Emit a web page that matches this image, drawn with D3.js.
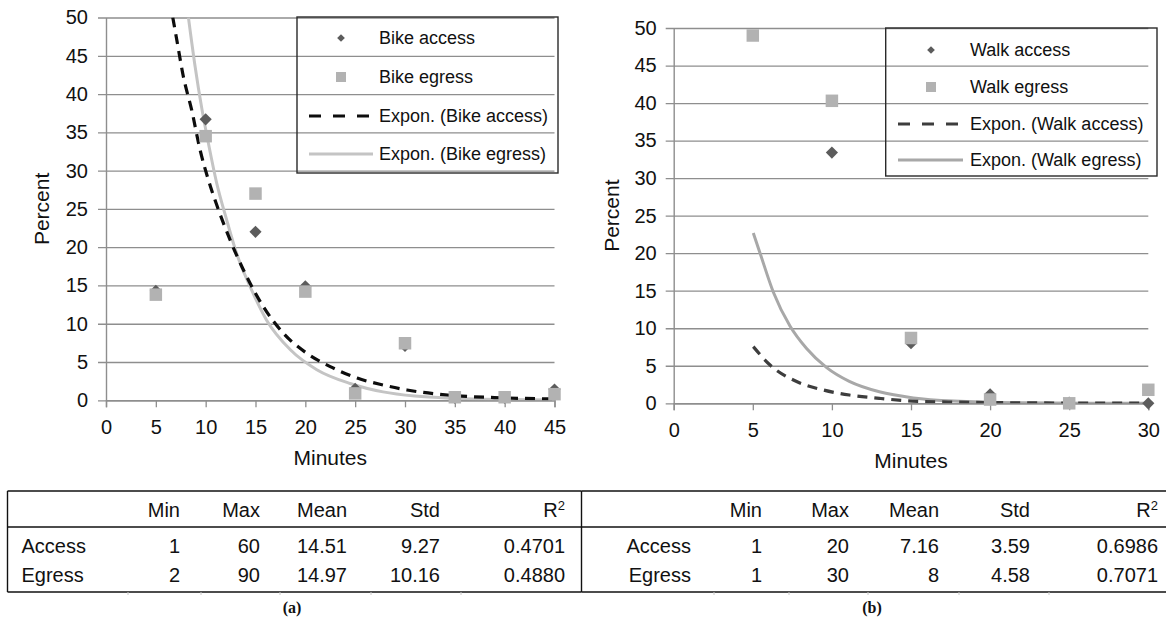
<!DOCTYPE html>
<html><head><meta charset="utf-8">
<script src="https://cdn.jsdelivr.net/npm/d3@7"></script>
<style>
html,body{margin:0;padding:0;background:#fff;}
svg{display:block;font-family:"Liberation Sans",Arial,Helvetica,sans-serif;}
</style></head><body>
<svg id="fig" width="1167" height="629"></svg>
<script>
// ---- (a) bike: share of trips (%) per 5-minute time bin ----
const bikeMinutes = [5, 10, 15, 20, 25, 30, 35, 40, 45];
const bikeAccess  = [14.3, 36.7, 22.0, 14.9, 1.5, 7.1, 0.3, 0.3, 1.4];
const bikeEgress  = [13.8, 34.5, 27.0, 14.2, 0.9, 7.45, 0.4, 0.4, 0.8];
// exponential trend lines, [minutes, percent]
const bikeAccessTrend = [[6.7,50],[7.1,47.1],[7.76,42.3],[8.6,37.9],[9.44,32.7],[10.27,28.8],[11.28,24.9],[12.45,20.95],[14.1,16.2],[15.8,12.2],[17.8,8.75],[20.15,6.14],[22.5,4.4],[25.2,2.9],[27.8,2.0],[30.2,1.35],[34.9,0.62],[39.9,0.32],[44.9,0.17]];
const bikeEgressTrend = [[8.27,50],[8.94,43.6],[9.6,38.2],[10.27,33.6],[11.1,28.4],[12.1,23.6],[13.1,19.2],[14.46,14.85],[16.1,10.5],[18.5,6.6],[21.15,4.0],[24.5,2.2],[27.8,1.1],[31,0.55],[35,0.25],[40,0.1],[45,0.04]];
const bikeXTicks = [0, 5, 10, 15, 20, 25, 30, 35, 40, 45];
const bikeLegend = ["Bike access", "Bike egress", "Expon. (Bike access)", "Expon. (Bike egress)"];

// ---- (b) walk ----
const walkAccessMinutes = [10, 15, 20, 25, 30];
const walkAccess        = [33.4, 8.0, 1.2, 0.1, 0.0];
const walkEgressMinutes = [5, 10, 15, 20, 25, 30];
const walkEgress        = [49.0, 40.3, 8.7, 0.5, 0.0, 1.8];
const walkAccessTrend = [[5.03,7.55],[6.09,5.1],[7.77,2.9],[9.46,1.77],[11.1,1.1],[13,0.66],[15.1,0.3],[18,0.15],[22,0.06],[26,0.03],[30,0.01]];
const walkEgressTrend = [[5.03,22.7],[5.46,20.0],[6.3,14.8],[7.35,10.3],[8.4,7.3],[9.67,4.75],[11.1,2.92],[13,1.53],[15.15,0.72],[17.7,0.3],[22,0.07],[26,0.02],[30,0.01]];
const walkXTicks = [0, 5, 10, 15, 20, 25, 30];
const walkLegend = ["Walk access", "Walk egress", "Expon. (Walk access)", "Expon. (Walk egress)"];

const percentTicks = [0, 5, 10, 15, 20, 25, 30, 35, 40, 45, 50];

// ---- summary statistics tables ----
const statHeaders = ["Min", "Max", "Mean", "Std", "R2"];
const statRows = ["Access", "Egress"];
const bikeStats = [["1", "60", "14.51", "9.27", "0.4701"], ["2", "90", "14.97", "10.16", "0.4880"]];
const walkStats = [["1", "20", "7.16", "3.59", "0.6986"], ["1", "30", "8", "4.58", "0.7071"]];

const svg = d3.select("#fig");
const TICK_FONT = 20;
const TITLE_FONT = 21;
const LEGEND_FONT = 18;
const TABLE_FONT = 20;
const GRID = "#8e8e8e";
const DIAMOND = "#5c5c5c";
const SQUARE = "#b2b2b2";

function drawPanel(p) {
  const x = d3.scaleLinear().domain([0, p.xMax]).range([p.left, p.right]);
  const y = d3.scaleLinear().domain([0, 50]).range([p.bottom, p.top]);
  const g = svg.append("g");

  // horizontal gridlines + y labels
  const ya = g.append("g").attr("transform", `translate(${p.left},0)`)
    .call(d3.axisLeft(y).tickValues(percentTicks).tickSizeInner(-(p.right - p.left)).tickSizeOuter(0).tickPadding(p.yPad));
  ya.select(".domain").attr("stroke", GRID).attr("stroke-width", 1.4);
  ya.selectAll(".tick line").attr("x1", -8).attr("x2", p.right - p.left).attr("stroke", GRID).attr("stroke-width", 1.3);
  ya.selectAll(".tick text").attr("font-size", TICK_FONT).attr("fill", "#111").attr("font-family", null);

  // x axis
  const xa = g.append("g").attr("transform", `translate(0,${p.bottom})`)
    .call(d3.axisBottom(x).tickValues(p.xTicks).tickSize(7).tickPadding(13));
  xa.select(".domain").attr("stroke", GRID).attr("stroke-width", 1.4);
  xa.selectAll(".tick line").attr("stroke", GRID).attr("stroke-width", 1.3);
  xa.selectAll(".tick text").attr("font-size", TICK_FONT).attr("fill", "#111").attr("font-family", null);

  // axis titles
  g.append("text").attr("x", (p.left + p.right) / 2).attr("y", p.xTitleY).attr("dy", "0.35em")
    .attr("text-anchor", "middle").attr("font-size", TITLE_FONT).attr("fill", "#111").text("Minutes");
  g.append("text").attr("transform", `translate(${p.yTitleX},${(p.top + p.bottom) / 2}) rotate(-90)`)
    .attr("dy", "0.35em").attr("text-anchor", "middle").attr("font-size", TITLE_FONT).attr("fill", "#111").text("Percent");

  // trend lines, clipped to the plot area
  const clipId = "clip" + p.id;
  svg.append("clipPath").attr("id", clipId).append("rect")
    .attr("x", p.left).attr("y", p.top).attr("width", p.right - p.left).attr("height", p.bottom - p.top);
  const line = d3.line().x(d => x(d[0])).y(d => y(d[1])).curve(d3.curveMonotoneX);
  const lines = g.append("g").attr("clip-path", `url(#${clipId})`);
  lines.append("path").datum(p.egressTrend).attr("d", line).attr("fill", "none")
    .attr("stroke", p.egressLine).attr("stroke-width", 3);
  lines.append("path").datum(p.accessTrend).attr("d", line).attr("fill", "none")
    .attr("stroke", p.accessLine).attr("stroke-width", 3.2).attr("stroke-dasharray", "10,7");

  // markers
  const diamond = d3.symbol(d3.symbolSquare, 74);
  const square = d3.symbol(d3.symbolSquare, 156);
  g.append("g").selectAll("path").data(p.accessX.map((m, i) => [m, p.access[i]])).join("path")
    .attr("transform", d => `translate(${x(d[0])},${y(d[1])}) rotate(45)`)
    .attr("d", diamond).attr("fill", DIAMOND);
  g.append("g").selectAll("path").data(p.egressX.map((m, i) => [m, p.egress[i]])).join("path")
    .attr("transform", d => `translate(${x(d[0])},${y(d[1])})`)
    .attr("d", square).attr("fill", SQUARE);

  // legend
  const L = p.legend;
  const lg = g.append("g");
  lg.append("rect").attr("x", L.x0).attr("y", L.y0).attr("width", L.x1 - L.x0).attr("height", L.y1 - L.y0)
    .attr("fill", "none").attr("stroke", "#2a2a2a").attr("stroke-width", 1.4);
  p.legendLabels.forEach((lab, i) => {
    const cy = L.rows[i];
    if (i === 0) {
      lg.append("path").attr("transform", `translate(${L.mx},${cy}) rotate(45)`)
        .attr("d", d3.symbol(d3.symbolSquare, 30)).attr("fill", DIAMOND);
    } else if (i === 1) {
      lg.append("path").attr("transform", `translate(${L.mx},${cy})`)
        .attr("d", d3.symbol(d3.symbolSquare, 100)).attr("fill", SQUARE);
    } else if (i === 2) {
      lg.append("line").attr("x1", L.lx0).attr("x2", L.lx1).attr("y1", cy).attr("y2", cy)
        .attr("stroke", p.accessLine).attr("stroke-width", 3.2).attr("stroke-dasharray", "12,12");
    } else {
      lg.append("line").attr("x1", L.lx0).attr("x2", L.lx1).attr("y1", cy).attr("y2", cy)
        .attr("stroke", p.egressLine).attr("stroke-width", 3);
    }
    lg.append("text").attr("x", L.tx).attr("y", cy).attr("dy", "0.35em")
      .attr("font-size", LEGEND_FONT).attr("fill", "#111").text(lab);
  });
}

drawPanel({
  id: "a", xMax: 45, left: 106, right: 554.5, top: 17.5, bottom: 400.3, yPad: 18,
  xTicks: bikeXTicks, xTitleY: 458, yTitleX: 42,
  accessX: bikeMinutes, access: bikeAccess, egressX: bikeMinutes, egress: bikeEgress,
  accessTrend: bikeAccessTrend, egressTrend: bikeEgressTrend,
  accessLine: "#0d0d0d", egressLine: "#c4c4c4",
  legendLabels: bikeLegend,
  legend: { x0: 297, x1: 558, y0: 17, y1: 173, rows: [38, 77, 116, 154], mx: 341, tx: 379, lx0: 309, lx1: 373 }
});

drawPanel({
  id: "b", xMax: 30, left: 673.7, right: 1148.3, top: 28, bottom: 403.3, yPad: 17,
  xTicks: walkXTicks, xTitleY: 461, yTitleX: 612,
  accessX: walkAccessMinutes, access: walkAccess, egressX: walkEgressMinutes, egress: walkEgress,
  accessTrend: walkAccessTrend, egressTrend: walkEgressTrend,
  accessLine: "#3d3d3d", egressLine: "#a8a8a8",
  legendLabels: walkLegend,
  legend: { x0: 885.7, x1: 1157, y0: 28, y1: 176, rows: [50, 87, 124, 160], mx: 931, tx: 970, lx0: 898, lx1: 963 }
});

// ---- tables ----
const T = { top: 491, head: 527, bottom: 592, headY: 510, rowY: [546, 575] };

function drawTable(t) {
  const g = svg.append("g").attr("font-size", TABLE_FONT).attr("fill", "#111");
  [T.top, T.head, T.bottom].forEach(yy => {
    g.append("line").attr("x1", t.x0).attr("x2", t.x1).attr("y1", yy).attr("y2", yy)
      .attr("stroke", "#111").attr("stroke-width", yy === T.top ? 1.6 : 1.3);
  });
  g.append("line").attr("x1", t.x0).attr("x2", t.x0).attr("y1", T.top).attr("y2", T.bottom)
    .attr("stroke", "#111").attr("stroke-width", 1.4);
  // faint column marks under the bottom rule
  t.marks.forEach(mx => {
    g.append("line").attr("x1", mx).attr("x2", mx).attr("y1", T.bottom).attr("y2", T.bottom + 3)
      .attr("stroke", "#c8c8c8").attr("stroke-width", 1);
  });
  statHeaders.forEach((h, j) => {
    const tx = g.append("text").attr("x", t.cols[j]).attr("y", T.headY).attr("dy", "0.35em").attr("text-anchor", "end");
    if (h === "R2") {
      tx.append("tspan").text("R");
      tx.append("tspan").attr("dy", "-0.55em").attr("font-size", 13).text("2");
    } else tx.text(h);
  });
  statRows.forEach((r, i) => {
    g.append("text").attr("x", t.labelX).attr("y", T.rowY[i]).attr("dy", "0.35em")
      .attr("text-anchor", t.labelAnchor).text(r);
    t.values[i].forEach((v, j) => {
      g.append("text").attr("x", t.cols[j]).attr("y", T.rowY[i]).attr("dy", "0.35em")
        .attr("text-anchor", "end").text(v);
    });
  });
  g.append("text").attr("x", t.capX).attr("y", 607).attr("dy", "0.35em").attr("text-anchor", "middle")
    .attr("font-family", "'Liberation Serif','Times New Roman',serif").attr("font-weight", "bold")
    .attr("font-size", 16).text(t.caption);
}

drawTable({ x0: 7.5, x1: 581.5, labelX: 21.5, labelAnchor: "start", cols: [180, 260, 347, 440, 565],
  marks: [128, 201, 280, 371, 461], values: bikeStats, capX: 292, caption: "(a)" });
drawTable({ x0: 581.5, x1: 1166, labelX: 691, labelAnchor: "end", cols: [762, 849, 939, 1030, 1158],
  marks: [714, 789, 868, 959, 1049], values: walkStats, capX: 872, caption: "(b)" });
</script>
</body></html>
